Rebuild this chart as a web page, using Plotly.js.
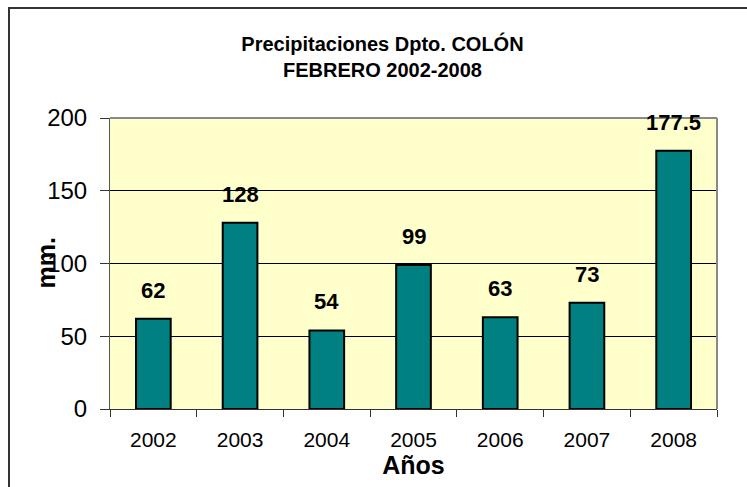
<!DOCTYPE html>
<html><head><meta charset="utf-8">
<script src="https://cdn.plot.ly/plotly-3.0.1.min.js"></script>
<style>
html,body{margin:0;padding:0;background:#fff;}
#frame{position:absolute;left:8px;top:7px;width:800px;height:520px;border-left:2px solid #333;border-top:2px solid #333;}
#chart{position:absolute;left:0;top:0;width:747px;height:487px;}
</style></head>
<body>
<div id="frame"></div>
<div id="chart"></div>
<script>
const years = ['2002','2003','2004','2005','2006','2007','2008'];
const rainfall = [62, 128, 54, 99, 63, 73, 177.5];
const yTicks = [0, 50, 100, 150, 200];

const FONT = 'Liberation Sans, Arial, sans-serif';
const idx = years.map((_, i) => i);
const labels = idx.map(i => ({
  x: i, y: rainfall[i], xref: 'x', yref: 'y',
  text: '<b>' + rainfall[i] + '</b>', showarrow: false,
  yanchor: 'bottom', yshift: 14,
  font: {family: FONT, size: 22, color: '#000'}
}));

const data = [{
  type: 'bar', x: idx, y: rainfall,
  marker: {color: '#008080', line: {color: '#000', width: 2}},
  hoverinfo: 'none'
}];

const layout = {
  width: 747, height: 487,
  margin: {l: 110, r: 30, t: 118, b: 78},
  paper_bgcolor: 'rgba(0,0,0,0)',
  plot_bgcolor: '#FFFFCC',
  bargap: 0.6,
  showlegend: false,
  font: {family: FONT, color: '#000'},
  title: {
    text: '<b>Precipitaciones Dpto. COLÓN<br>FEBRERO 2002-2008</b>',
    font: {size: 20, color: '#000'},
    x: 0.512, xanchor: 'center', y: 0.895, yanchor: 'middle'
  },
  xaxis: {
    range: [-0.5, 6.5], tickvals: idx, ticktext: years,
    ticks: '', tickfont: {size: 21}, ticklabelstandoff: 12,
    minor: {tick0: -0.5, dtick: 1, ticks: 'outside', ticklen: 7, tickcolor: '#333', showgrid: false},
    showline: true, linecolor: '#333', linewidth: 1,
    showgrid: false, zeroline: false,
    title: {text: '<b>Años</b>', font: {size: 25}, standoff: 3}
  },
  yaxis: {
    range: [0, 200], tickvals: yTicks, ticktext: yTicks.map(String),
    ticks: 'outside', ticklen: 9, tickcolor: '#333', ticklabelstandoff: 8,
    tickfont: {size: 24}, showline: true, linecolor: '#555', linewidth: 1,
    showgrid: true, gridcolor: '#000', gridwidth: 1, zeroline: false
  },
  shapes: [
    {type: 'line', xref: 'paper', yref: 'paper', x0: 0, x1: 1, y0: 1, y1: 1, line: {color: '#888', width: 2}},
    {type: 'line', xref: 'paper', yref: 'paper', x0: 1, x1: 1, y0: 0, y1: 1, line: {color: '#888', width: 2}}
  ],
  annotations: labels.concat([{
    xref: 'paper', yref: 'paper', x: 0, y: 0.5, xshift: -65,
    xanchor: 'center', yanchor: 'middle',
    text: '<b>mm.</b>', textangle: -90, showarrow: false,
    font: {size: 25, color: '#000'}
  }])
};

Plotly.newPlot('chart', data, layout, {displayModeBar: false, staticPlot: true});
</script>
</body></html>
